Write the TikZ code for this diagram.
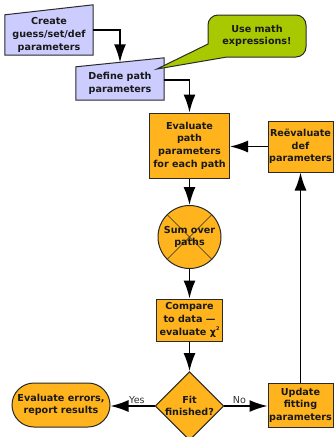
\documentclass[tikz,border=0pt]{standalone}
\usepackage{fontspec}
\setmainfont{DejaVu Sans}
\usetikzlibrary{arrows.meta,shapes.geometric,calc}
\definecolor{lav}{HTML}{CCCCFF}
\definecolor{orng}{HTML}{FFB31C}
\definecolor{lime}{HTML}{A8C800}
\definecolor{edge}{HTML}{2A2A2A}
\tikzset{
  txt/.style={font=\bfseries\fontsize{9.6}{12.6}\selectfont, text=black!90, align=center, inner sep=0pt},
  lavbox/.style={fill=lav, draw=edge, line width=1pt},
  orbox/.style={txt, rectangle, fill=orng, draw=edge, line width=1pt},
  arr/.style={line width=1.6pt, -{Latex[length=18pt,width=12pt]}},
  lbl/.style={font=\fontsize{9.6}{10}\selectfont, text=black!80, inner sep=1.5pt}
}
\begin{document}
\begin{tikzpicture}[x=1pt,y=-1pt]
\useasboundingbox (0,0) rectangle (334,437);
% manual input shapes
\node[txt, minimum width=88pt, minimum height=40pt] (create) at (49,35) {};
\node[txt, minimum width=88pt, minimum height=33pt] (define) at (120,83.5) {};
\path[lavbox] (create.south west) -- (create.south east) -- ([yshift=10pt]create.north east) -- (create.north west) -- cycle;
\path[lavbox] (define.south west) -- (define.south east) -- ([yshift=9pt]define.north east) -- (define.north west) -- cycle;
\node[txt] at (create) {Create\\guess/set/def\\parameters};
\node[txt] at (define) {Define path\\parameters};
% callout
\draw[fill=lime, draw=edge, line width=1pt] (208,44) [rounded corners=10pt] -- (208,15) -- (306,15) -- (306,57) [sharp corners] -- (227,57) -- (157,69) -- cycle;
\node[txt] (callout) at (257,36) {Use math\\expressions!};
% main flow
\node[orbox, minimum width=80pt, minimum height=65pt] (eval) at (189.5,145.5) {Evaluate\\path\\parameters\\for each path};
\node[orbox, minimum width=65pt, minimum height=51pt] (reeval) at (300.5,146.5) {Reëvaluate\\def\\parameters};
\node[txt, circle, fill=orng, draw=edge, line width=1pt, minimum size=63pt] (sum) at (189.5,237) {};
\draw[edge, line width=0.6pt] (sum.north west) -- (sum.south east) (sum.north east) -- (sum.south west);
\node[txt] at (sum) {Sum over\\paths};
\node[orbox, minimum width=66pt, minimum height=42pt] (compare) at (189.5,320) {Compare\\to data —\\evaluate χ{\fontsize{5}{5}\selectfont\raisebox{4.5pt}{2}}};
\node[txt, diamond, fill=orng, draw=edge, line width=1pt, minimum width=64pt, minimum height=66pt] (fit) at (189.5,406) {Fit\\finished?};
\node[orbox, rounded corners=22pt, minimum width=98pt, minimum height=44pt] (errors) at (61,405) {Evaluate errors,\\report results};
\node[orbox, minimum width=65pt, minimum height=44pt] (update) at (300.5,405) {Update\\fitting\\parameters};
% connectors
\draw[arr] ([yshift=5pt]create.east) -| ([yshift=4.5pt]define.north);
\draw[arr] ([yshift=3.5pt]define.east) -| (eval.north);
\draw[arr] (eval.south) -- (sum.north);
\draw[arr] (sum.south) -- (compare.north);
\draw[arr] (compare.south) -- (fit.north);
\draw[arr] (reeval.west) -- (reeval.west -| eval.east);
\draw[arr] (update.north) -- (reeval.south);
\draw[arr] (fit.west) -- node[lbl, pos=0.4, above] {Yes} (fit.west -| errors.east);
\draw[arr] (fit.east) -- node[lbl, pos=0.35, above] {No} (fit.east -| update.west);
\end{tikzpicture}
\end{document}
